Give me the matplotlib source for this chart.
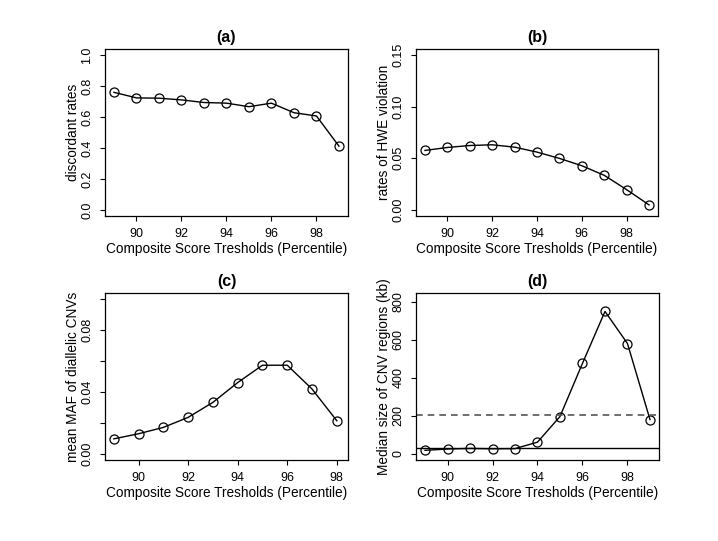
import matplotlib
matplotlib.use('Agg')
import matplotlib.pyplot as plt
import numpy as np

plt.rcParams['font.family'] = ['Liberation Sans', 'DejaVu Sans']

# thresholds (percentile)
pct = [89, 90, 91, 92, 93, 94, 95, 96, 97, 98, 99]
pct_c = [89, 90, 91, 92, 93, 94, 95, 96, 97, 98]

discordant = [0.760, 0.724, 0.722, 0.711, 0.694, 0.690, 0.667, 0.690, 0.628, 0.607, 0.412]
hwe_rate = [0.0576, 0.0605, 0.0624, 0.0631, 0.0608, 0.0560, 0.0499, 0.0428, 0.0335, 0.0196, 0.0048]
mean_maf = [0.0097, 0.0130, 0.0171, 0.0236, 0.0333, 0.0461, 0.0573, 0.0573, 0.0419, 0.0214]
median_size = [19, 26, 29, 27, 28, 62, 197, 477, 750, 581, 181]
hline_solid = 30
hline_dashed = 205

xlab = 'Composite Score Tresholds (Percentile)'


def r_style(ax, yticks, ylabels, ylim, xlim):
    ax.set_xlim(*xlim)
    ax.set_ylim(*ylim)
    ax.set_xticks([90, 92, 94, 96, 98])
    ax.set_yticks(yticks)
    ax.set_yticklabels(ylabels, rotation=90, va='center')
    ax.tick_params(direction='out', length=3.8, width=0.8, labelsize=9, pad=4.5,
                   top=False, right=False)
    for s in ax.spines.values():
        s.set_linewidth(0.9)
    ax.set_xlabel(xlab, fontsize=9.8, labelpad=2)


def panel(ax, x, y):
    ax.plot(x, y, color='black', lw=1.0, marker='o', ms=6.5, mfc='none',
            mec='black', mew=0.9)


fig = plt.figure(figsize=(7.18, 5.41), dpi=100)
ax_a = fig.add_axes([0.1462, 0.6007, 0.3384, 0.3087])
ax_b = fig.add_axes([0.5794, 0.6007, 0.3370, 0.3087])
ax_c = fig.add_axes([0.1462, 0.1497, 0.3384, 0.3087])
ax_d = fig.add_axes([0.5794, 0.1497, 0.3384, 0.3087])

# (a)
panel(ax_a, pct, discordant)
r_style(ax_a, [0, 0.2, 0.4, 0.6, 0.8, 1.0],
        ['0.0', '0.2', '0.4', '0.6', '0.8', '1.0'], (-0.04, 1.04), (88.6, 99.4))
ax_a.set_ylabel('discordant rates', fontsize=9.8, labelpad=1)
ax_a.set_title('(a)', fontweight='bold', fontsize=11.5, pad=5)

# (b)
panel(ax_b, pct, hwe_rate)
r_style(ax_b, [0, 0.05, 0.10, 0.15],
        ['0.00', '0.05', '0.10', '0.15'], (-0.006, 0.156), (88.6, 99.4))
ax_b.set_ylabel('rates of HWE violation', fontsize=9.8, labelpad=1)
ax_b.set_title('(b)', fontweight='bold', fontsize=11.5, pad=5)

# (c)
panel(ax_c, pct_c, mean_maf)
r_style(ax_c, [0, 0.02, 0.04, 0.06, 0.08, 0.10],
        ['0.00', '', '0.04', '', '0.08', ''], (-0.004, 0.104), (88.64, 98.45))
ax_c.set_ylabel('mean MAF of diallelic CNVs', fontsize=9.8, labelpad=1)
ax_c.set_title('(c)', fontweight='bold', fontsize=11.5, pad=5)

# (d)
panel(ax_d, pct, median_size)
ax_d.axhline(hline_solid, color='black', lw=1.0)
ax_d.axhline(hline_dashed, color='#555555', lw=1.2, ls=(0, (4, 3)))
r_style(ax_d, [0, 200, 400, 600, 800],
        ['0', '200', '400', '600', '800'], (-32, 847), (88.6, 99.4))
ax_d.set_ylabel('Median size of CNV regions (kb)', fontsize=9.8, labelpad=1)
ax_d.set_title('(d)', fontweight='bold', fontsize=11.5, pad=5)

fig.savefig('out.png', dpi=100)
